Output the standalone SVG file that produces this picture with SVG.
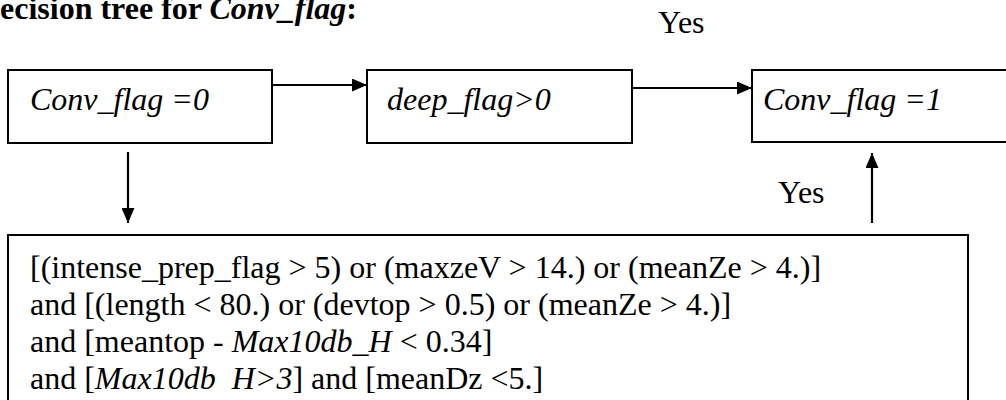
<svg xmlns="http://www.w3.org/2000/svg" width="1006" height="400" viewBox="0 0 1006 400" font-family="'Liberation Serif', 'Times New Roman', Times, serif">
<style>
text{font-family:'Liberation Serif','Times New Roman',Times,serif;font-size:32px;fill:#000}
.i{font-style:italic}
.b{font-weight:bold}
.box{fill:#fff;stroke:#000;stroke-width:2}
.c{stroke:#000;stroke-width:2.2;fill:none}
</style>
<defs>
<marker id="ah" markerWidth="16" markerHeight="13" refX="15" refY="6.5" orient="auto" markerUnits="userSpaceOnUse">
<path d="M0,0 L15,6.5 L0,13 z" fill="#000"/>
</marker>
</defs>
<text class="b" x="0" y="19">ecision tree for <tspan class="i">Conv_flag</tspan>:</text>
<g id="n1"><rect class="box" x="8" y="70" width="264" height="73"/><text class="i" x="30" y="110">Conv_flag =0</text></g>
<g id="n2"><rect class="box" x="367" y="70" width="265" height="73"/><text class="i" x="387" y="110">deep_flag&gt;0</text></g>
<g id="n3"><rect class="box" x="752" y="70" width="270" height="72"/><text class="i" x="763" y="110">Conv_flag =1</text></g>
<g id="n4"><rect class="box" x="8" y="235" width="960" height="180"/>
<text x="30" y="278">[(intense_prep_flag &gt; 5) or (maxzeV &gt; 14.) or (meanZe &gt; 4.)]</text>
<text x="30" y="315">and [(length &lt; 80.) or (devtop &gt; 0.5) or (meanZe &gt; 4.)]</text>
<text x="30" y="352">and [meantop - <tspan class="i">Max10db_H</tspan> &lt; 0.34]</text>
<text x="30" y="389">and [<tspan class="i">Max10db&#160;&#160;H&gt;3</tspan>] and [meanDz &lt;5.]</text>
</g>
<g id="connectors">
<line class="c" x1="272" y1="85" x2="367" y2="85" marker-end="url(#ah)"/>
<line class="c" x1="632" y1="88" x2="752" y2="88" marker-end="url(#ah)"/>
<line class="c" x1="128" y1="152" x2="128" y2="223" marker-end="url(#ah)"/>
<line class="c" x1="872" y1="223" x2="872" y2="153" marker-end="url(#ah)"/>
<text x="658" y="33">Yes</text>
<text x="778" y="203">Yes</text>
</g>
</svg>
